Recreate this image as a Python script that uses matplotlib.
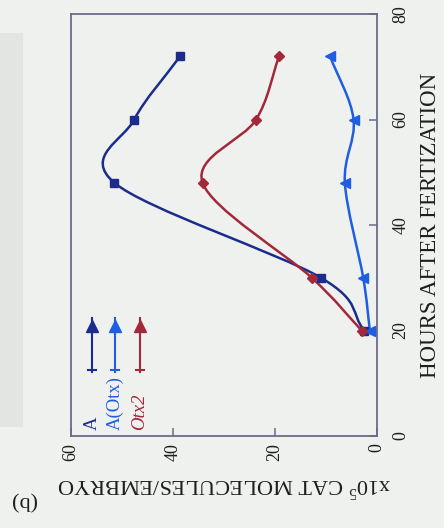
import numpy as np
import matplotlib
matplotlib.use("Agg")
import matplotlib.pyplot as plt
from matplotlib.patches import Rectangle, PathPatch
from matplotlib.path import Path
from matplotlib.lines import Line2D

# ---- data ----
hours = [20, 30, 48, 60, 72]
a_values = [2.5, 11.0, 51.5, 47.6, 38.6]        # A
a_otx_values = [1.4, 2.7, 6.3, 4.6, 9.2]        # A(Otx)
otx2_values = [3.0, 12.8, 34.2, 23.7, 19.2]     # Otx2
series_names = ["A", "A(Otx)", "Otx2"]
value_ticks = [0, 20, 40, 60]
hour_ticks = [0, 20, 40, 60, 80]

plt.rcParams['font.family'] = ['Liberation Serif', 'DejaVu Serif']
plt.rcParams['mathtext.fontset'] = 'custom'
plt.rcParams['mathtext.rm'] = 'Liberation Serif'

C_A = '#1c2c8c'
C_AOTX = '#1f5ee0'
C_OTX2 = '#a3283a'
SPINE = '#6b6b88'
BG = '#eff1ef'
TXT = '#1e1e1e'


def smooth_path(xs, ys):
    """Catmull-Rom curve through the points, expressed as cubic Bezier path."""
    P = np.column_stack([xs, ys]).astype(float)
    n = len(P)
    ext = np.vstack([2 * P[0] - P[1], P, 2 * P[-1] - P[-2]])
    verts = [P[0]]
    codes = [Path.MOVETO]
    for i in range(n - 1):
        p0, p1, p2, p3 = ext[i], ext[i + 1], ext[i + 2], ext[i + 3]
        c1 = p1 + (p2 - p0) / 6.0
        c2 = p2 - (p3 - p1) / 6.0
        verts += [c1, c2, p2]
        codes += [Path.CURVE4] * 3
    return Path(verts, codes)


fig = plt.figure(figsize=(4.44, 5.28), dpi=100, facecolor=BG)
W, H = 444, 528

# grey scanner patch at the left edge
fig.patches.append(Rectangle((0 / W, (H - 427) / H), 23 / W, (427 - 33) / H,
                             transform=fig.transFigure, facecolor='#e2e5e2',
                             edgecolor='none', zorder=0))

ax = fig.add_axes([71 / W, (H - 436) / H, (377 - 71) / W, (436 - 14) / H])
ax.set_facecolor(BG)
ax.set_xlim(60, 0)
ax.set_ylim(0, 80)

for vals, col, mk, ms in [(a_values, C_A, 's', 6),
                          (a_otx_values, C_AOTX, '<', 7),
                          (otx2_values, C_OTX2, 'D', 5.5)]:
    ax.add_patch(PathPatch(smooth_path(vals, hours), facecolor='none',
                           edgecolor=col, lw=1.8, zorder=3))
    ax.plot(vals, hours, ls='none', marker=mk, color=col, ms=ms, zorder=4)

for s in ax.spines.values():
    s.set_color(SPINE)
    s.set_linewidth(1.3)

ax.set_xticks(value_ticks)
ax.set_yticks(hour_ticks)
ax.yaxis.tick_right()
ax.yaxis.set_label_position('right')
ax.tick_params(axis='both', direction='in', length=6, width=1.1, color=SPINE,
               labelsize=13, labelcolor=TXT)
ax.tick_params(axis='x', pad=5, labelrotation=90)
ax.tick_params(axis='y', pad=11, labelrotation=90)
for t in ax.get_yticklabels():
    t.set_va('center')

ax.set_xlabel(r'x10$^5$ CAT MOLECULES/EMBRYO', rotation=180, fontsize=16,
              color=TXT, labelpad=9)
ax.set_ylabel('HOURS AFTER FERTIZATION', rotation=90, fontsize=16.5,
              color=TXT, labelpad=8)

fig.text(23 / W, (H - 500) / H, '(b)', rotation=180, fontsize=16,
         color=TXT, ha='center', va='center')


# rotated legend
def fx(px):
    return (px - 71) / (377 - 71)


def fy(py):
    return (436 - py) / (436 - 14)


leg = [("A", C_A, 92, 'normal'),
       ("A(Otx)", C_AOTX, 115, 'normal'),
       ("Otx2", C_OTX2, 140, 'italic')]
for name, col, px, style in leg:
    ax.text(fx(px), fy(430), name, transform=ax.transAxes, rotation=90,
            ha='center', va='bottom', fontsize=13.5, color=col, style=style)
    ax.add_line(Line2D([fx(px), fx(px)], [fy(372), fy(318)],
                       transform=ax.transAxes, color=col, lw=1.5))
    ax.add_line(Line2D([fx(px) - 0.012, fx(px) + 0.012], [fy(370), fy(370)],
                       transform=ax.transAxes, color=col, lw=1.5))
    ax.add_line(Line2D([fx(px)], [fy(326)], transform=ax.transAxes,
                       marker='^', color=col, ms=9, ls='none'))

fig.savefig('out.png', dpi=100, facecolor=BG)
